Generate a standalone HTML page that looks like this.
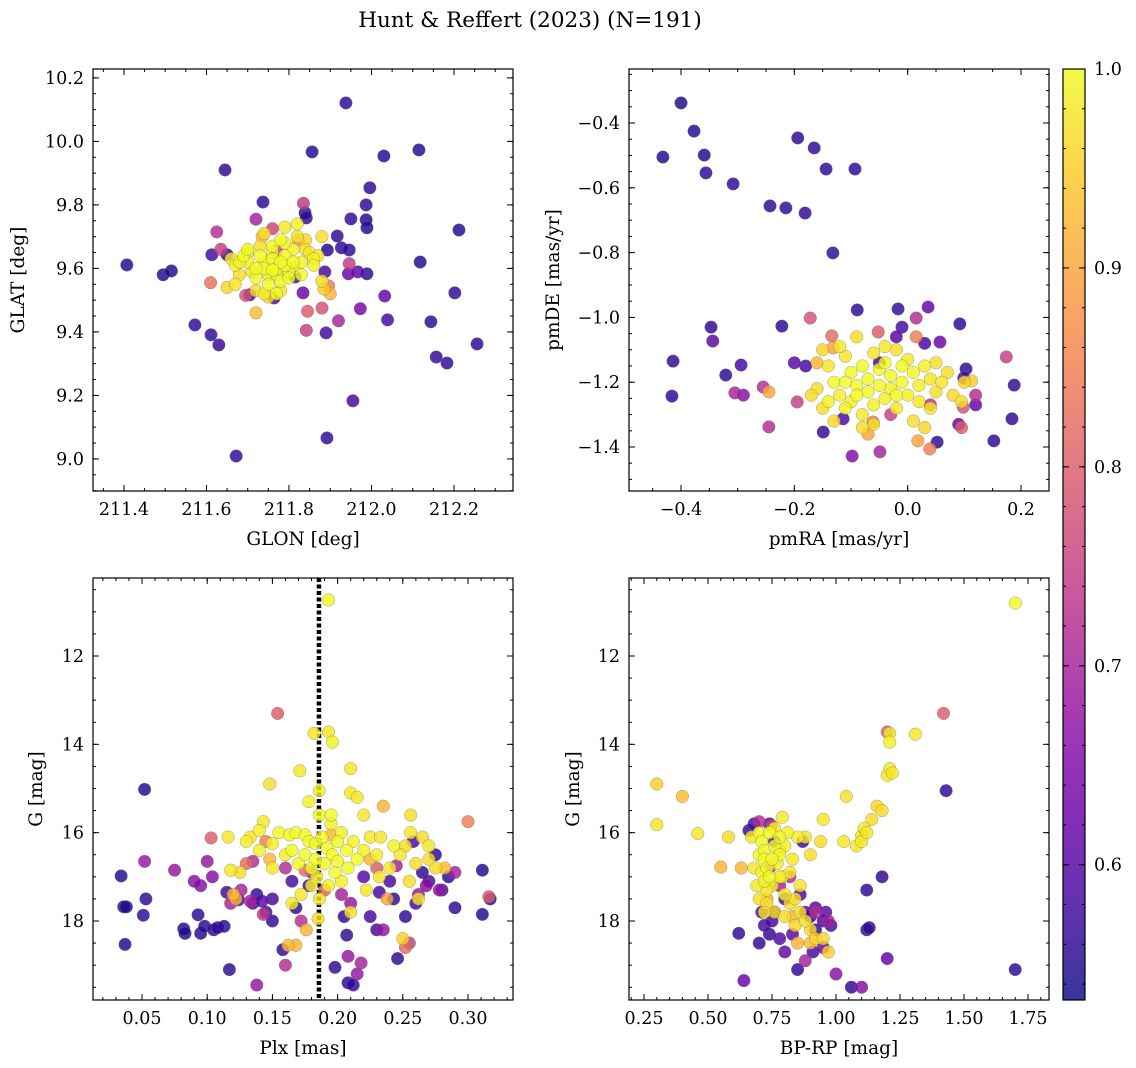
<!DOCTYPE html>
<html><head><meta charset="utf-8">
<style>
html,body{margin:0;padding:0;background:#fff;}
svg{display:block;font-family:"DejaVu Serif","Liberation Serif",serif;}
</style></head>
<body>
<svg id="chart" width="1136" height="1068" viewBox="0 0 1136 1068" xmlns="http://www.w3.org/2000/svg">
<text x="530" y="27" text-anchor="middle" font-size="21.5">Hunt &amp; Reffert (2023) (N=191)</text>
</svg>
<script>
// ---------------- data (value, value, membership probability) ----------------
const skyPoints = [
[211.407,9.611,0.55],[211.495,9.580,0.55],[211.515,9.592,0.55],[211.572,9.422,0.56],[211.611,9.391,0.56],[211.630,9.359,0.57],
[211.645,9.910,0.56],[211.672,9.009,0.56],[211.737,9.809,0.56],[211.938,10.121,0.56],[211.856,9.967,0.55],[212.030,9.954,0.55],
[212.115,9.973,0.55],[211.996,9.854,0.56],[211.987,9.800,0.56],[211.987,9.753,0.55],[211.950,9.756,0.56],[211.839,9.775,0.56],
[211.842,9.759,0.56],[211.917,9.702,0.56],[211.893,9.658,0.55],[211.927,9.665,0.56],[211.946,9.658,0.56],[211.989,9.728,0.55],
[211.967,9.589,0.60],[211.944,9.583,0.62],[211.989,9.583,0.56],[211.887,9.589,0.58],[212.212,9.721,0.55],[212.118,9.620,0.55],
[212.202,9.523,0.56],[212.144,9.432,0.56],[212.157,9.321,0.56],[212.183,9.302,0.56],[212.256,9.362,0.56],[212.032,9.513,0.62],
[212.039,9.438,0.58],[211.973,9.473,0.64],[211.890,9.397,0.58],[211.955,9.183,0.58],[211.892,9.066,0.56],[211.815,9.573,0.58],
[211.650,9.643,0.56],[211.613,9.643,0.58],[211.705,9.517,0.57],[211.764,9.507,0.58],[211.834,9.523,0.62],
[211.625,9.715,0.72],[211.635,9.660,0.75],[211.720,9.755,0.70],[211.760,9.725,0.76],[211.835,9.805,0.74],[211.695,9.515,0.78],
[211.842,9.405,0.75],[211.845,9.465,0.80],[211.920,9.435,0.70],[211.880,9.475,0.78],[211.896,9.545,0.85],[211.610,9.555,0.83],
[211.946,9.615,0.74],[211.823,9.690,0.88],[211.770,9.655,0.75],[211.720,9.460,0.93],[211.900,9.520,0.92],[211.735,9.700,0.93],
[211.66,9.63,0.98],[211.67,9.61,0.99],[211.68,9.58,0.97],[211.67,9.55,0.98],[211.65,9.54,0.96],[211.69,9.64,1.0],[211.70,9.62,0.99],
[211.71,9.59,0.98],[211.72,9.57,1.0],[211.72,9.53,0.97],[211.73,9.64,1.0],[211.74,9.62,0.99],[211.74,9.60,1.0],[211.75,9.58,0.98],
[211.75,9.55,1.0],[211.76,9.65,0.99],[211.76,9.63,1.0],[211.77,9.60,1.0],[211.77,9.58,0.99],[211.78,9.56,1.0],[211.78,9.53,0.98],
[211.79,9.64,1.0],[211.79,9.61,1.0],[211.80,9.59,0.99],[211.80,9.57,1.0],[211.81,9.62,1.0],[211.81,9.60,0.98],[211.81,9.66,0.99],
[211.73,9.67,0.97],[211.76,9.67,1.0],[211.70,9.65,0.98],[211.79,9.68,0.99],[211.77,9.52,1.0],[211.74,9.52,0.98],[211.83,9.62,0.99],
[211.84,9.66,0.97],[211.83,9.58,1.0],[211.85,9.65,0.98],[211.86,9.63,0.99],[211.79,9.73,0.98],[211.74,9.71,0.97],[211.70,9.66,1.0],
[211.68,9.62,0.99],[211.78,9.69,1.0],[211.82,9.70,0.98],[211.75,9.51,0.97],[211.84,9.69,0.96],[211.86,9.61,0.99],[211.88,9.56,0.97],
[211.82,9.74,0.99],[211.88,9.70,0.97],[211.87,9.64,0.98],[211.72,9.60,1.0],[211.78,9.62,1.0],[211.76,9.595,1.0],[211.885,9.535,0.95]
];
const pmPoints = [
[-0.432,-0.505,0.55],[-0.400,-0.338,0.55],[-0.377,-0.425,0.55],[-0.359,-0.499,0.55],[-0.356,-0.554,0.56],[-0.308,-0.588,0.56],
[-0.243,-0.656,0.56],[-0.215,-0.662,0.56],[-0.194,-0.446,0.56],[-0.165,-0.477,0.56],[-0.181,-0.678,0.56],[-0.144,-0.542,0.56],
[-0.093,-0.542,0.56],[-0.132,-0.801,0.56],[-0.414,-1.135,0.56],[-0.416,-1.243,0.56],[-0.347,-1.030,0.56],[-0.344,-1.073,0.60],
[-0.321,-1.178,0.56],[-0.294,-1.147,0.58],[-0.222,-1.027,0.56],[-0.200,-1.140,0.60],[-0.089,-0.977,0.56],[-0.017,-0.974,0.56],
[0.036,-0.968,0.62],[0.015,-1.002,0.72],[0.092,-1.020,0.56],[0.057,-1.076,0.62],[0.103,-1.159,0.56],[0.099,-1.187,0.58],
[0.188,-1.209,0.56],[0.184,-1.313,0.56],[0.152,-1.381,0.56],[0.052,-1.385,0.56],[-0.098,-1.428,0.65],[-0.149,-1.354,0.56],
[-0.114,-1.313,0.58],[-0.049,-1.415,0.70],[-0.180,-1.150,0.58],[-0.050,-1.140,0.58],[0.030,-1.080,0.58],[-0.010,-1.030,0.58],
[0.120,-1.270,0.62],[0.090,-1.330,0.62],[-0.020,-1.060,0.60],[-0.290,-1.240,0.66],
[-0.245,-1.338,0.72],[-0.305,-1.233,0.70],[-0.255,-1.215,0.72],[-0.195,-1.261,0.75],[-0.172,-1.002,0.78],[-0.134,-1.057,0.82],
[0.015,-1.060,0.85],[0.098,-1.277,0.78],[0.174,-1.122,0.75],[0.039,-1.406,0.85],[-0.052,-1.045,0.80],[-0.061,-1.323,0.85],
[0.095,-1.340,0.80],[-0.030,-1.300,0.75],[0.120,-1.240,0.72],[0.040,-1.270,0.72],
[-0.132,-1.094,0.90],[0.018,-1.381,0.90],[0.113,-1.196,0.95],[-0.245,-1.230,0.90],[-0.160,-1.140,0.92],[-0.070,-1.360,0.90],
[-0.14,-1.15,0.98],[-0.13,-1.20,1.0],[-0.12,-1.24,0.99],[-0.15,-1.28,0.97],[-0.11,-1.12,0.98],[-0.10,-1.17,1.0],[-0.09,-1.21,1.0],
[-0.10,-1.26,0.99],[-0.08,-1.30,0.98],[-0.08,-1.15,1.0],[-0.07,-1.19,1.0],[-0.07,-1.23,1.0],[-0.06,-1.27,0.99],[-0.06,-1.11,0.98],
[-0.05,-1.16,1.0],[-0.05,-1.21,1.0],[-0.04,-1.25,0.99],[-0.04,-1.14,1.0],[-0.03,-1.18,1.0],[-0.03,-1.22,0.99],[-0.02,-1.28,0.98],
[-0.01,-1.15,1.0],[-0.01,-1.20,1.0],[0.00,-1.24,0.99],[0.00,-1.13,0.98],[0.01,-1.17,1.0],[0.02,-1.21,0.99],[0.02,-1.26,0.98],
[0.03,-1.15,0.99],[0.04,-1.19,0.98],[0.05,-1.23,0.97],[0.04,-1.28,0.98],[0.05,-1.14,0.97],[-0.09,-1.06,0.97],[-0.12,-1.09,0.98],
[-0.16,-1.22,0.97],[-0.13,-1.32,0.96],[-0.11,-1.28,0.99],[-0.06,-1.33,0.97],[0.01,-1.32,0.97],[0.03,-1.34,0.96],[0.06,-1.20,0.98],
[0.07,-1.17,0.97],[0.08,-1.24,0.96],[0.095,-1.26,0.97],[-0.04,-1.09,0.98],[-0.02,-1.10,0.97],[-0.14,-1.26,0.99],[-0.17,-1.24,0.97],
[-0.09,-1.24,1.0],[-0.11,-1.20,1.0],[-0.02,-1.24,1.0],[0.10,-1.20,0.96],[-0.08,-1.34,0.97],[-0.15,-1.10,0.96]
];
const plxPoints = [
[0.034,16.98,0.55],[0.036,17.68,0.55],[0.038,17.68,0.55],[0.037,18.53,0.55],[0.052,15.02,0.55],[0.053,17.50,0.56],[0.051,17.87,0.56],
[0.082,18.18,0.55],[0.083,18.28,0.55],[0.093,17.86,0.56],[0.095,18.28,0.55],[0.098,18.12,0.56],[0.105,18.20,0.56],[0.108,18.15,0.56],
[0.113,18.12,0.56],[0.115,17.35,0.58],[0.117,19.10,0.56],[0.124,17.52,0.58],[0.135,17.60,0.58],[0.138,17.40,0.56],[0.142,17.55,0.60],
[0.145,17.80,0.58],[0.150,18.00,0.56],[0.158,18.65,0.56],[0.165,17.10,0.58],[0.168,17.70,0.56],[0.178,17.20,0.58],[0.205,17.90,0.56],
[0.207,18.32,0.56],[0.208,19.40,0.56],[0.212,19.45,0.56],[0.232,17.35,0.58],[0.240,17.10,0.58],[0.243,17.50,0.56],[0.246,18.85,0.56],
[0.252,17.90,0.56],[0.260,17.60,0.58],[0.265,16.90,0.56],[0.270,17.10,0.58],[0.275,16.50,0.56],[0.280,17.30,0.58],[0.285,17.00,0.56],
[0.290,17.70,0.56],[0.311,16.85,0.55],[0.311,17.85,0.55],[0.317,17.50,0.55],[0.150,17.50,0.58],[0.220,17.00,0.60],[0.258,16.20,0.58],
[0.225,17.90,0.58],[0.230,18.20,0.58],[0.198,19.05,0.56],
[0.052,16.65,0.68],[0.075,16.85,0.68],[0.090,17.10,0.66],[0.100,16.65,0.68],[0.104,17.00,0.66],[0.118,17.60,0.70],[0.126,17.30,0.70],
[0.138,19.45,0.68],[0.143,17.85,0.74],[0.160,19.00,0.72],[0.172,18.00,0.72],[0.208,18.80,0.68],[0.215,19.20,0.68],[0.218,18.95,0.70],
[0.235,18.20,0.68],[0.255,18.50,0.75],[0.262,17.40,0.68],[0.268,17.20,0.66],[0.203,17.40,0.70],[0.210,17.60,0.68],[0.290,16.90,0.70],
[0.278,17.30,0.68],[0.245,16.75,0.70],[0.160,16.80,0.72],[0.135,16.65,0.72],[0.180,16.90,0.70],[0.133,17.55,0.70],[0.095,17.20,0.66],
[0.103,16.12,0.80],[0.154,13.30,0.80],[0.300,15.75,0.85],[0.130,16.70,0.82],[0.190,17.30,0.80],[0.252,18.60,0.82],[0.175,16.85,0.82],
[0.145,16.20,0.85],[0.230,16.80,0.80],[0.316,17.45,0.80],
[0.122,17.50,0.92],[0.148,16.60,0.92],[0.162,18.55,0.93],[0.168,18.55,0.92],[0.176,18.20,0.92],[0.235,15.40,0.92],[0.238,17.50,0.90],
[0.250,18.40,0.95],[0.282,16.80,0.93],[0.120,17.40,0.93],[0.195,16.05,0.93],[0.225,16.60,0.92],
[0.193,10.73,1.0],[0.182,13.75,0.98],[0.193,13.72,0.98],[0.196,13.95,0.99],[0.210,14.55,0.98],[0.171,14.60,0.98],[0.148,14.90,0.97],
[0.186,15.05,0.99],[0.210,15.10,0.98],[0.178,15.30,0.99],[0.186,15.60,1.0],[0.195,15.60,1.0],[0.220,15.60,0.98],[0.256,15.60,0.97],
[0.143,15.75,0.98],[0.116,16.10,0.98],[0.130,16.20,0.99],[0.133,16.10,0.98],[0.140,15.95,0.99],[0.155,16.00,1.0],[0.163,16.05,1.0],
[0.168,16.00,1.0],[0.175,16.05,1.0],[0.178,16.20,1.0],[0.183,16.25,1.0],[0.188,16.10,1.0],[0.192,16.35,1.0],[0.196,16.50,1.0],
[0.200,16.20,1.0],[0.203,16.00,0.99],[0.207,16.40,1.0],[0.212,16.20,0.99],[0.215,16.60,1.0],[0.220,16.40,0.99],[0.225,16.10,0.98],
[0.230,16.50,0.99],[0.233,16.10,0.98],[0.240,16.80,0.98],[0.243,16.30,0.99],[0.248,16.50,0.98],[0.252,16.30,0.97],[0.256,16.00,0.98],
[0.260,16.70,0.97],[0.265,16.10,0.97],[0.270,16.30,0.98],[0.275,16.80,0.97],[0.165,16.40,1.0],[0.170,16.70,1.0],[0.175,16.50,1.0],
[0.180,16.80,1.0],[0.184,17.00,0.99],[0.190,16.70,1.0],[0.193,17.20,0.99],[0.198,16.90,1.0],[0.203,17.10,0.99],[0.160,16.50,0.99],
[0.150,16.80,0.98],[0.140,16.40,0.99],[0.125,16.90,0.97],[0.118,16.85,0.98],[0.186,17.50,0.98],[0.172,17.40,0.98],[0.210,17.80,0.97],
[0.222,17.30,0.98],[0.232,17.00,0.98],[0.185,17.95,0.97],[0.165,17.60,0.98],[0.255,17.10,0.97],[0.262,17.50,0.98],[0.195,15.80,0.99],
[0.183,16.60,1.0],[0.200,16.65,1.0],[0.270,16.60,0.97],[0.150,16.25,0.99],[0.180,17.20,0.99],[0.208,16.80,1.0],[0.215,15.20,0.98]
];
const cmdPoints = [
[1.70,10.80,1.0],[1.42,13.30,0.80],[1.43,15.05,0.56],[1.70,19.10,0.56],[0.30,14.90,0.95],[0.30,15.82,0.98],[0.40,15.18,0.93],
[0.46,16.02,0.98],[0.55,16.78,0.92],[0.58,16.10,0.97],
[0.70,16.0,1.0],[0.71,16.2,1.0],[0.72,16.4,1.0],[0.70,16.5,0.99],[0.72,16.6,1.0],[0.73,16.8,1.0],[0.71,16.9,0.99],[0.74,17.0,1.0],
[0.72,17.1,0.99],[0.75,17.2,0.98],[0.73,17.3,0.98],[0.76,16.3,1.0],[0.74,16.0,1.0],[0.76,15.9,0.99],[0.78,16.1,1.0],[0.80,16.3,0.99],
[0.78,16.5,1.0],[0.77,16.7,0.99],[0.79,17.0,0.98],[0.80,17.4,0.98],[0.82,17.6,0.97],[0.84,17.5,0.97],[0.86,17.8,0.97],[0.88,18.0,0.97],
[0.90,18.2,0.96],[0.92,18.4,0.96],[0.85,16.1,0.99],[0.83,16.6,0.98],[0.82,16.9,0.98],[0.88,16.1,0.98],[0.95,15.7,0.98],[0.94,16.2,0.97],
[0.90,16.5,0.97],[0.68,16.8,0.98],[0.69,17.2,0.98],[0.70,17.5,0.97],[0.73,17.6,0.97],[0.76,17.8,0.97],[0.80,17.9,0.97],[0.84,18.1,0.96],
[0.95,18.4,0.96],[0.97,18.7,0.95],[0.67,16.1,0.98],[0.75,16.6,1.0],[0.72,17.8,0.97],[0.78,17.0,0.99],[0.81,16.0,0.99],[0.86,17.2,0.98],
[1.03,16.2,0.98],[1.04,15.18,0.97],[1.08,16.3,0.98],[1.10,16.2,0.98],[1.11,15.9,0.98],[1.12,16.0,0.98],[1.14,15.7,0.97],[1.16,15.4,0.96],
[1.18,15.5,0.97],[1.20,14.7,0.98],[1.21,14.55,0.98],[1.22,14.65,0.98],[1.21,13.95,0.99],[1.21,13.75,0.98],[1.31,13.77,0.98],
[1.10,16.07,0.97],[0.79,15.65,0.98],
[0.73,17.5,0.92],[0.78,16.4,0.93],[0.85,18.5,0.92],[0.90,18.5,0.93],[0.83,17.9,0.92],[0.63,16.8,0.92],
[0.62,18.28,0.56],[0.64,19.35,0.62],[0.70,18.5,0.56],[0.72,18.1,0.58],[0.74,18.3,0.56],[0.76,17.8,0.58],[0.78,18.4,0.60],[0.80,17.5,0.58],
[0.85,19.1,0.56],[0.88,17.8,0.58],[0.90,17.9,0.56],[0.91,18.7,0.58],[0.92,18.2,0.56],[0.95,18.6,0.62],[1.00,19.2,0.66],[1.06,19.5,0.56],
[1.10,19.5,0.66],[1.12,18.2,0.56],[1.12,17.3,0.56],[1.18,17.0,0.56],[1.20,18.85,0.62],[0.66,15.95,0.56],[0.68,15.8,0.58],[0.74,15.8,0.60],
[0.76,16.2,0.58],[0.87,16.2,0.58],[0.95,18.0,0.58],[0.92,17.7,0.60],[0.98,18.1,0.58],[0.75,18.0,0.58],[0.83,18.3,0.60],[0.71,17.8,0.58],
[1.13,18.15,0.56],[0.86,17.4,0.60],[0.80,18.7,0.62],[0.96,17.8,0.60],
[0.70,15.75,0.72],[0.75,15.85,0.76],[0.78,17.2,0.70],[0.82,17.0,0.72],[0.88,18.9,0.70],[0.92,17.8,0.72],[1.20,13.72,0.80],
[0.97,18.0,0.70],[0.74,16.8,0.72]
];
const xTicksSky = [211.4,211.6,211.8,212.0,212.2];
const yTicksSky = [9.0,9.2,9.4,9.6,9.8,10.0,10.2];
const xTicksPm = [-0.4,-0.2,0.0,0.2];
const yTicksPm = [-1.4,-1.2,-1.0,-0.8,-0.6,-0.4];
const xTicksPlx = [0.05,0.10,0.15,0.20,0.25,0.30];
const yTicksG = [12,14,16,18];
const xTicksCol = [0.25,0.50,0.75,1.00,1.25,1.50,1.75];
const cbTicks = [0.6,0.7,0.8,0.9,1.0];
const plxCut = [0.1857];
const probRange = [0.532,1.0];

// ---------------- rendering ----------------
const NS="http://www.w3.org/2000/svg";
const svg=document.getElementById('chart');
const TICKFS=17.5, LABFS=18.5;
function mk(tag,attrs,parent){const e=document.createElementNS(NS,tag);for(const k in attrs)e.setAttribute(k,attrs[k]);(parent||svg).appendChild(e);return e;}
const stops=["#0d0887","#41049d","#6a00a8","#8f0da4","#b12a90","#cc4778","#e16462","#f2844b","#fca636","#fcce25","#f0f921"];
function hex(c){return [parseInt(c.slice(1,3),16),parseInt(c.slice(3,5),16),parseInt(c.slice(5,7),16)];}
function cmap(p){let t=(p-probRange[0])/(probRange[1]-probRange[0]);t=Math.max(0,Math.min(1,t));const f=t*10,i=Math.min(9,Math.floor(f)),r=f-i;const a=hex(stops[i]),b=hex(stops[i+1]);return 'rgb('+a.map((v,k)=>Math.round(v+(b[k]-v)*r)).join(',')+')';}
function fmt(v,d){return (v<0?'−':'')+Math.abs(v).toFixed(d);}

function panel(cfg){
  const g=mk('g',{});
  
  
  const {x0,y0,x1,y1,xl,yl}=cfg;
  const sx=v=>x0+(v-xl[0])/(xl[1]-xl[0])*(x1-x0);
  const sy=v=>y1-(v-yl[0])/(yl[1]-yl[0])*(y1-y0);
  const cp='cp'+cfg.name;
  const defs=mk('defs',{},g);const c=mk('clipPath',{id:cp},defs);mk('rect',{x:x0,y:y0,width:x1-x0,height:y1-y0},c);
  const pg=mk('g',{'clip-path':'url(#'+cp+')'},g);
  if(cfg.vline){const l=mk('line',{x1:sx(cfg.vline[0]),x2:sx(cfg.vline[0]),y1:y0,y2:y1,stroke:'#000','stroke-width':4.5,'stroke-dasharray':'4,2.5'},pg);
    
    }
  const pts=cfg.pts.slice().sort((a,b)=>a[2]-b[2]);
  pts.forEach(p=>{const e=mk('circle',{cx:sx(p[0]),cy:sy(p[1]),r:6.3,fill:cmap(p[2]),'fill-opacity':0.82,stroke:'#666','stroke-opacity':0.6,'stroke-width':0.5},pg);
    
    });
  const tg=mk('g',{stroke:'#000','stroke-width':1},g);
  const xmin=Math.min(xl[0],xl[1]),xmax=Math.max(xl[0],xl[1]),ymin=Math.min(yl[0],yl[1]),ymax=Math.max(yl[0],yl[1]);
  for(let v=Math.ceil(xmin/cfg.xm-1e-6)*cfg.xm;v<=xmax+1e-9;v+=cfg.xm){const X=sx(v);mk('line',{x1:X,x2:X,y1:y1,y2:y1-3},tg);mk('line',{x1:X,x2:X,y1:y0,y2:y0+3},tg);}
  for(let v=Math.ceil(ymin/cfg.ym-1e-6)*cfg.ym;v<=ymax+1e-9;v+=cfg.ym){const Y=sy(v);mk('line',{x1:x0,x2:x0+3,y1:Y,y2:Y},tg);mk('line',{x1:x1,x2:x1-3,y1:Y,y2:Y},tg);}
  cfg.xt.forEach(v=>{const X=sx(v);mk('line',{x1:X,x2:X,y1:y1,y2:y1-6},tg);mk('line',{x1:X,x2:X,y1:y0,y2:y0+6},tg);
    const t=mk('text',{x:X,y:y1+24,'text-anchor':'middle','font-size':TICKFS},g);t.textContent=fmt(v,cfg.xd);
    
    });
  cfg.yt.forEach(v=>{const Y=sy(v);mk('line',{x1:x0,x2:x0+6,y1:Y,y2:Y},tg);mk('line',{x1:x1,x2:x1-6,y1:Y,y2:Y},tg);
    const t=mk('text',{x:x0-9,y:Y+6,'text-anchor':'end','font-size':TICKFS},g);t.textContent=fmt(v,cfg.yd);
    
    });
  mk('rect',{x:x0,y:y0,width:x1-x0,height:y1-y0,fill:'none',stroke:'#000','stroke-width':1.2},g);
  const xlab=mk('text',{x:(x0+x1)/2,y:y1+54,'text-anchor':'middle','font-size':LABFS},g);xlab.textContent=cfg.xlab;
  
  
  const lx=cfg.ylabx,ly=(y0+y1)/2;
  const ylab=mk('text',{x:lx,y:ly,'text-anchor':'middle','font-size':LABFS,transform:'rotate(-90 '+lx+' '+ly+')'},g);ylab.textContent=cfg.ylab;
  
  
}
panel({name:'sky-panel',x0:93,y0:69,x1:513,y1:491,xl:[211.325,212.343],yl:[8.899,10.228],pts:skyPoints,xt:xTicksSky,yt:yTicksSky,xm:0.05,ym:0.05,xd:1,yd:1,xlab:'GLON [deg]',ylab:'GLAT [deg]',ylabx:24});
panel({name:'pm-panel',x0:629,y0:69,x1:1049,y1:491,xl:[-0.4918,0.2494],yl:[-1.5358,-0.2333],pts:pmPoints,xt:xTicksPm,yt:yTicksPm,xm:0.05,ym:0.05,xd:1,yd:1,xlab:'pmRA [mas/yr]',ylab:'pmDE [mas/yr]',ylabx:559});
panel({name:'plx-panel',x0:93,y0:578,x1:513,y1:1000,xl:[0.01243,0.3345],yl:[19.789,10.234],pts:plxPoints,xt:xTicksPlx,yt:yTicksG,xm:0.01,ym:0.5,xd:2,yd:0,xlab:'Plx [mas]',ylab:'G [mag]',ylabx:42,vline:plxCut});
panel({name:'cmd-panel',x0:629,y0:578,x1:1049,y1:1000,xl:[0.1914,1.832],yl:[19.789,10.234],pts:cmdPoints,xt:xTicksCol,yt:yTicksG,xm:0.05,ym:0.5,xd:2,yd:0,xlab:'BP-RP [mag]',ylab:'G [mag]',ylabx:579});

// colorbar
(function(){
  const x0=1063,x1=1085,y0=69,y1=1000;
  const g=mk('g',{});
  
  
  const defs=mk('defs',{},g);const lg=mk('linearGradient',{id:'cbg',x1:0,y1:1,x2:0,y2:0},defs);
  stops.forEach((s,i)=>mk('stop',{offset:i/10,'stop-color':s,'stop-opacity':0.82},lg));
  mk('rect',{x:x0,y:y0,width:x1-x0,height:y1-y0,fill:'url(#cbg)'},g);
  const sy=v=>y1-(v-probRange[0])/(probRange[1]-probRange[0])*(y1-y0);
  for(let v=0.54;v<=1.0001;v+=0.02){const Y=sy(v);mk('line',{x1:x0,x2:x0+3,y1:Y,y2:Y,stroke:'#000'},g);mk('line',{x1:x1,x2:x1-3,y1:Y,y2:Y,stroke:'#000'},g);}
  cbTicks.forEach(v=>{const Y=sy(v);mk('line',{x1:x0,x2:x0+6,y1:Y,y2:Y,stroke:'#000'},g);mk('line',{x1:x1,x2:x1-6,y1:Y,y2:Y,stroke:'#000'},g);
    const t=mk('text',{x:x1+9,y:Y+6,'font-size':TICKFS},g);t.textContent=v.toFixed(1);
    
    });
  mk('rect',{x:x0,y:y0,width:x1-x0,height:y1-y0,fill:'none',stroke:'#000','stroke-width':1.2},g);
})();
</script>
</body></html>
